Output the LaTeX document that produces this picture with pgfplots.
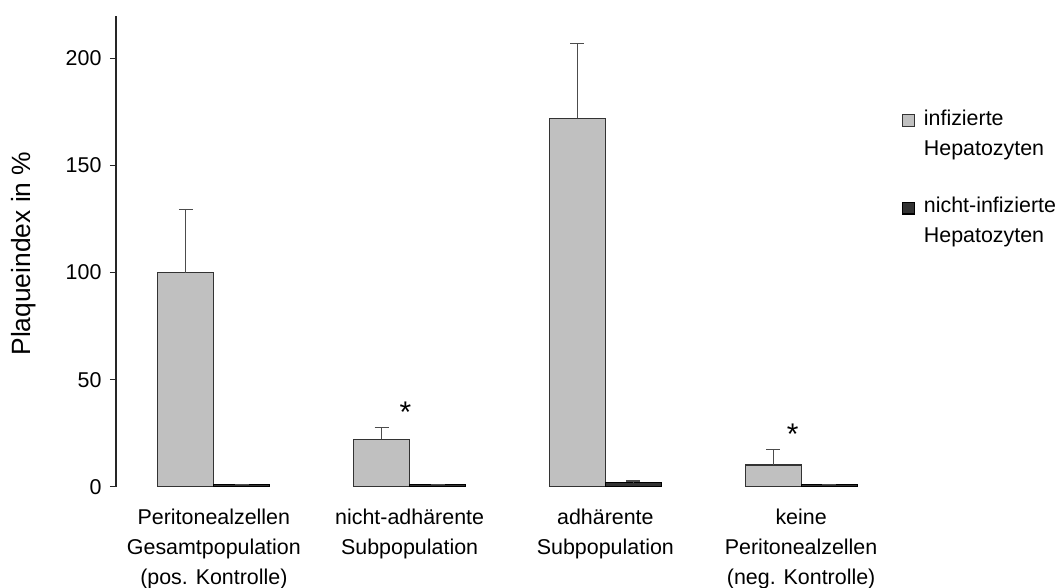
\documentclass[border=0pt]{standalone}
\usepackage{pgfplots}
\usepackage{pgfplotstable}
\pgfplotsset{compat=1.18}
\usepackage{fontspec}
\setmainfont{Liberation Sans}
\definecolor{barg}{RGB}{192,192,192}
\definecolor{bard}{RGB}{51,51,51}
\pgfplotstableread{
x y e
0 100 29.3
1 22.2 5.6
2 172 35.2
3 10.1 7.3
}\infiz
\pgfplotstableread{
x y e
0 0.9 0
1 0.9 0
2 1.9 0.8
3 0.9 0
}\nichtinfiz
\begin{document}
\begin{tikzpicture}
\begin{axis}[
  name=ax,
  scale only axis,
  width=783bp, height=471bp,
  xmin=-0.5, xmax=3.5, ymin=0, ymax=220,
  axis x line*=bottom,
  axis y line*=left,
  x axis line style={draw=none},
  y axis line style={-, draw=black!85, line width=1.2bp},
  xtick={0,1,2,3},
  xticklabels={{Peritonealzellen\\Gesamtpopulation\\(pos. Kontrolle)},
               {nicht-adhärente\\Subpopulation},
               {adhärente\\Subpopulation},
               {keine\\Peritonealzellen\\(neg. Kontrolle)}},
  xtick style={draw=none},
  xticklabel style={align=center, anchor=north, yshift=-13bp, font=\fontsize{21.5}{30}\selectfont},
  ytick={0,50,100,150,200},
  ytick style={draw=black!85, line width=1.2bp},
  tick align=outside,
  major tick length=6bp,
  yticklabel style={font=\fontsize{21.5}{24}\selectfont, xshift=-5bp},
  /pgf/number format/assume math mode=true,
  ylabel={Plaqueindex in \%},
  ylabel style={at={(axis description cs:-0.1086,0.495)}, anchor=base, rotate=0, font=\fontsize{26.5}{30}\selectfont},
  clip=false,
  legend style={draw=none, fill=none, at={(axis description cs:1.0,0.82)}, anchor=north west,
     font=\fontsize{21.5}{30}\selectfont, cells={anchor=base west}, row sep=61bp, column sep=7bp},
  legend image code/.code={\draw[#1] (0bp,-1bp) rectangle (11.5bp,10.7bp);},
]
\addplot[ybar, bar width=56bp, bar shift=0pt, fill=barg, draw=black!80, line width=1.2bp,
  error bars/.cd, y dir=plus, y explicit,
  error bar style={draw=black!70, line width=1.2bp},
  error mark options={draw=black!70, line width=1.2bp, mark size=7bp, rotate=90}]
  table[x expr=\thisrow{x}-0.14304, y=y, y error=e]{\infiz};
\addlegendentry{\begin{tabular}[t]{@{}l@{}}infizierte\\Hepatozyten\end{tabular}}
\addplot[ybar, bar width=56bp, bar shift=0pt, fill=bard, draw=black, line width=1.2bp,
  error bars/.cd, y dir=plus, y explicit,
  error bar style={draw=black!70, line width=1.2bp},
  error mark options={draw=black!70, line width=1.2bp, mark size=7bp, rotate=90}]
  table[x expr=\thisrow{x}+0.14304, y=y, y error=e]{\nichtinfiz};
\addlegendentry{\begin{tabular}[t]{@{}l@{}}nicht-infizierte\\Hepatozyten\end{tabular}}
\node[anchor=base, font=\fontsize{30}{30}\selectfont] at (axis cs:0.979,30.0) {*};
\node[anchor=base, font=\fontsize{30}{30}\selectfont] at (axis cs:2.957,19.6) {*};
\end{axis}
\pgfresetboundingbox
\path ([shift={(-116bp,-101.3bp)}]ax.south west) rectangle ([shift={(943bp,486.7bp)}]ax.south west);
\end{tikzpicture}
\end{document}
